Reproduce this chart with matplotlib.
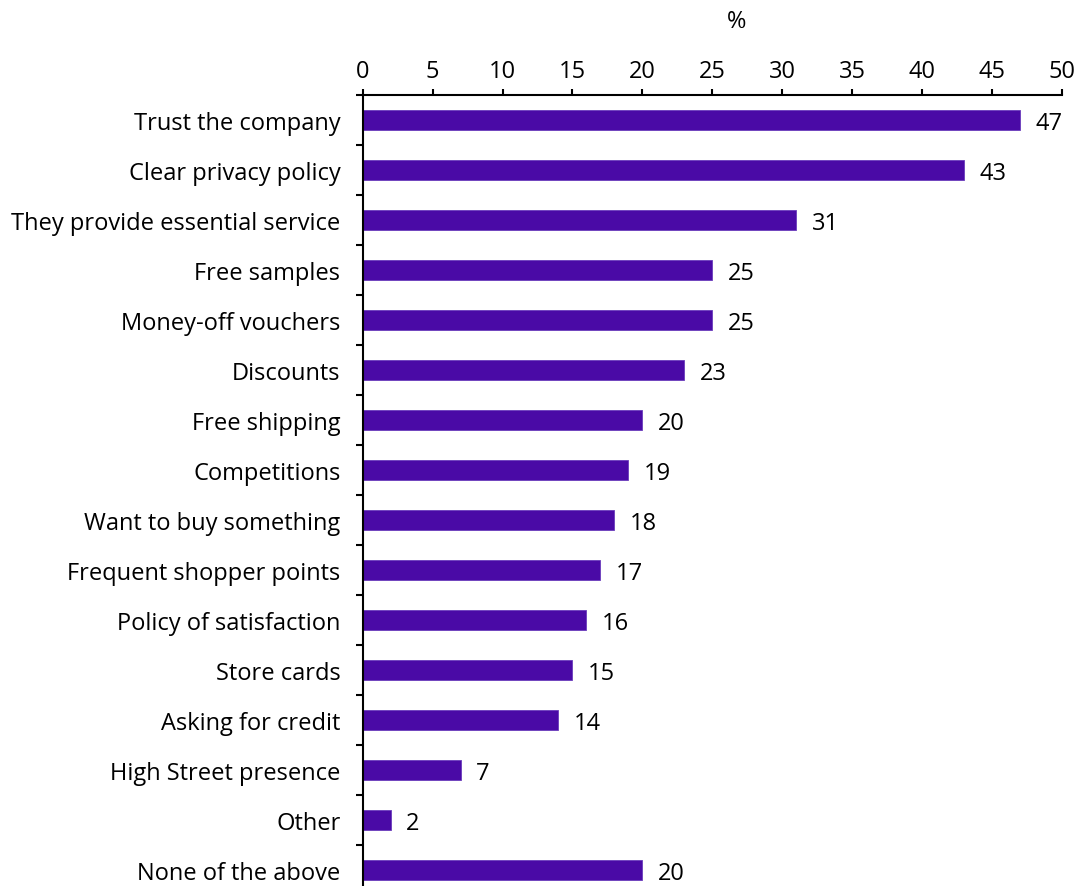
import matplotlib
import matplotlib.pyplot as plt
import numpy as np
from matplotlib.ticker import FixedLocator

matplotlib.use('Agg')

plt.rcParams['font.family'] = ['Open Sans', 'DejaVu Sans']

# Share of respondents (%)
categories = [
    "Trust the company",
    "Clear privacy policy",
    "They provide essential service",
    "Free samples",
    "Money-off vouchers",
    "Discounts",
    "Free shipping",
    "Competitions",
    "Want to buy something",
    "Frequent shopper points",
    "Policy of satisfaction",
    "Store cards",
    "Asking for credit",
    "High Street presence",
    "Other",
    "None of the above",
]
values = [47, 43, 31, 25, 25, 23, 20, 19, 18, 17, 16, 15, 14, 7, 2, 20]
x_ticks = [0, 5, 10, 15, 20, 25, 30, 35, 40, 45, 50]

bar_color = '#4a0aa6'
font_size = 17

fig = plt.figure(figsize=(10.81, 8.87), dpi=100)
ax = fig.add_axes([0.3355, -0.0102, 0.6469, 0.9021])

y = np.arange(len(categories))
ax.barh(y, values, height=0.4, color=bar_color, edgecolor='#6a3cbc',
        linewidth=0.6)

for yi, v in zip(y, values):
    ax.text(v + 1.1, yi, f'{v}', va='center_baseline', ha='left',
            fontsize=font_size)

ax.set_xlim(0, 50)
ax.set_ylim(len(categories) - 0.5, -0.5)

# x axis on top
ax.xaxis.tick_top()
ax.set_xticks(x_ticks)
ax.tick_params(axis='x', direction='out', length=4.3, width=1.5,
               labelsize=font_size, pad=4)

# category labels at bar centres, tick marks between bars
ax.set_yticks(y)
ax.set_yticklabels(categories)
for lab in ax.get_yticklabels():
    lab.set_va('center_baseline')
ax.yaxis.set_minor_locator(FixedLocator(np.arange(-0.5, len(categories), 1)))
ax.tick_params(axis='y', which='major', length=0, labelsize=font_size, pad=16)
ax.tick_params(axis='y', which='minor', direction='out', length=5, width=1.5)

for side in ['right', 'bottom']:
    ax.spines[side].set_visible(False)
for side in ['top', 'left']:
    ax.spines[side].set_linewidth(1.5)

ax.text(0.535, 1.092, '%', transform=ax.transAxes, ha='center',
        va='center', fontsize=font_size)

plt.savefig('out.png', dpi=100)
plt.close()
